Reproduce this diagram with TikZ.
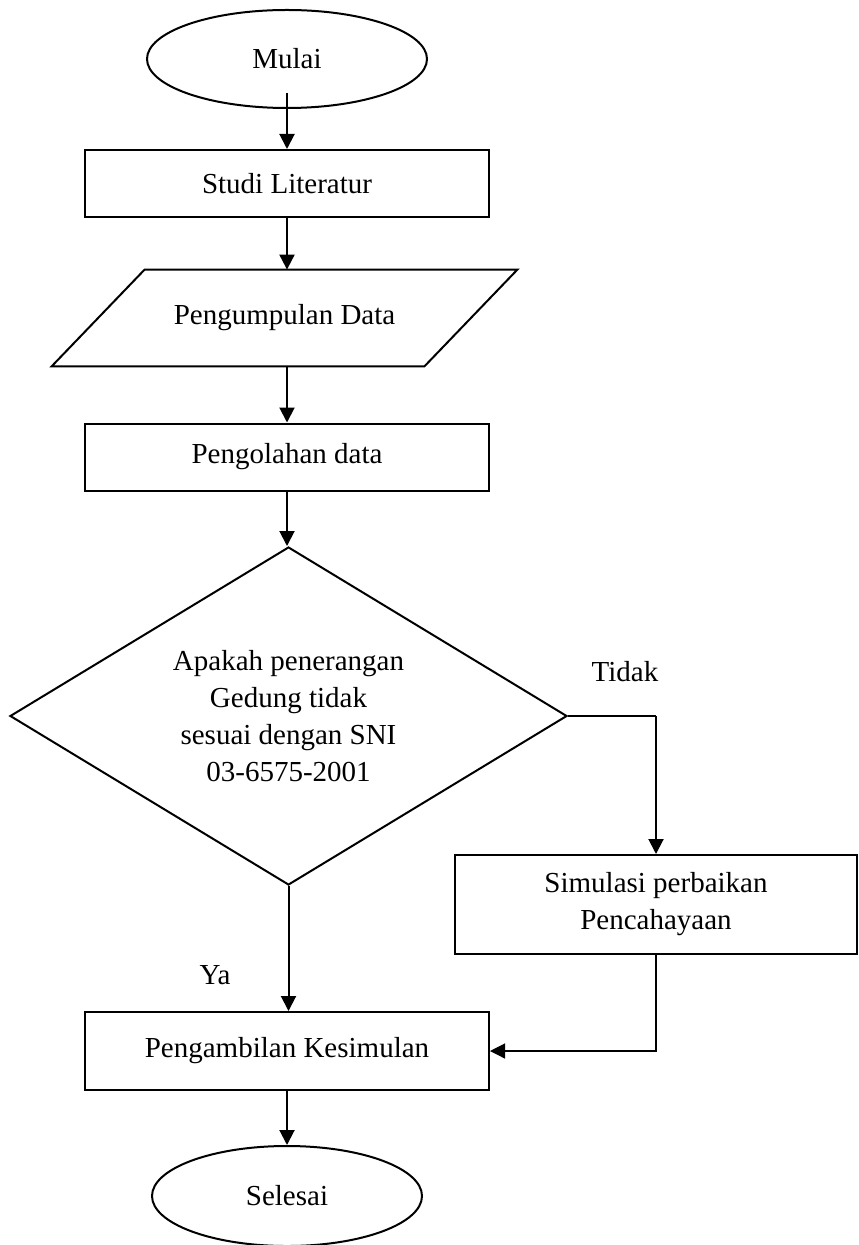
\documentclass[tikz,border=0pt]{standalone}
\usepackage{fontspec}
\setmainfont{Liberation Serif}
\usetikzlibrary{shapes.geometric,arrows.meta}

\tikzset{
    terminal/.style={draw, ellipse, line width=1pt, minimum width=140pt, minimum height=49pt, inner sep=0pt},
    process/.style={draw, rectangle, line width=1pt, minimum width=202pt, minimum height=33.5pt, align=center},
    datain/.style={rectangle, minimum width=186pt, minimum height=48pt, inner sep=0pt},
    decision/.style={draw, diamond, aspect=1.65, line width=1pt, minimum width=278.5pt, minimum height=169pt, inner sep=0pt, align=center},
    flow/.style={line width=1pt, -{Triangle[length=7.5pt, width=7.5pt]}},
    thinflow/.style={line width=0.6pt, -{Triangle[length=7.5pt, width=7.5pt]}},
    every node/.style={font=\fontsize{14.5}{18.5}\selectfont}
}

\begin{document}
\begin{tikzpicture}[x=0.5pt, y=-0.5pt]
    \useasboundingbox (0,0) rectangle (858,1245);

    % Nodes
    \node[terminal] (mulai) at (287,59) {Mulai};
    \node[process] (studi) at (287,183.5) {Studi Literatur};
    \node[datain] (data) at (284.5,318) {Pengumpulan Data};
    \node[process] (olah) at (287,457) {Pengolahan data};
    \node[decision] (cek) at (288.5,716) {Apakah penerangan\\Gedung tidak\\sesuai dengan SNI\\03-6575-2001};
    \node[process, minimum width=201pt, minimum height=49.5pt] (simulasi) at (656,904.5) {Simulasi perbaikan\\Pencahayaan};
    \node[process, minimum height=39pt] (ambil) at (287,1051) {Pengambilan Kesimulan};
    \node[terminal, minimum width=135pt, minimum height=50pt] (selesai) at (287,1196) {Selesai};

    % Parallelogram for the data input
    \draw[line width=1pt] ([xshift=23.25pt]data.north west) -- ([xshift=23.25pt]data.north east)
        -- ([xshift=-23.25pt]data.south east) -- ([xshift=-23.25pt]data.south west) -- cycle;

    % Main flow
    \draw[flow] ([yshift=8pt]mulai.south) -- (studi.north);
    \draw[flow] (studi.south) -- (studi.south |- data.north);
    \draw[flow] (studi.south |- data.south) -- (olah.north);
    \draw[flow] (olah.south) -- (olah.south |- cek.north);
    \draw[flow] (cek.south) -- (cek.south |- ambil.north);
    \draw[flow] (ambil.south) -- (selesai.north);

    % Branch "Tidak"
    \coordinate (belok) at (cek.east -| simulasi.north);
    \draw[line width=0.6pt] (cek.east) -- (belok);
    \draw[flow] (belok) -- (simulasi.north);
    \draw[thinflow] (simulasi.south) |- (ambil.east);

    % Labels
    \node (tidak) at (625,672) {Tidak};
    \node (ya) at (215,975) {Ya};
\end{tikzpicture}
\end{document}
